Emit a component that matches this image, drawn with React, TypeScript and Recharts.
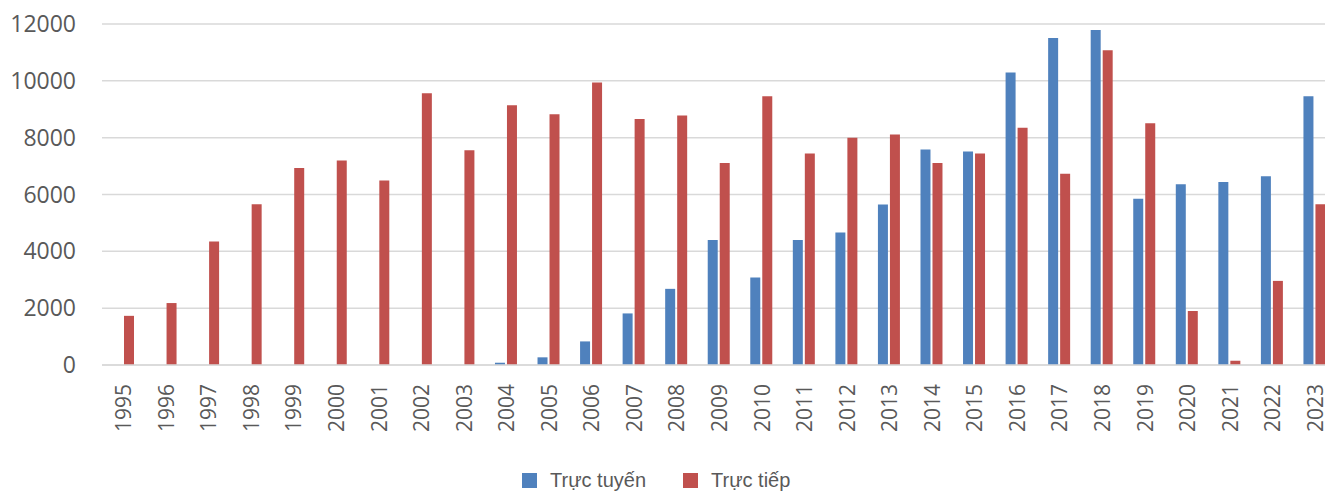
import { BarChart, Bar, XAxis, YAxis, CartesianGrid, Legend } from "recharts";

const years = [
  "1995", "1996", "1997", "1998", "1999", "2000", "2001", "2002", "2003", "2004",
  "2005", "2006", "2007", "2008", "2009", "2010", "2011", "2012", "2013", "2014",
  "2015", "2016", "2017", "2018", "2019", "2020", "2021", "2022", "2023",
];

// Trực tuyến (online)
const online = [
  0, 0, 0, 0, 0, 0, 0, 0, 0, 80,
  270, 830, 1815, 2680, 4400, 3080, 4400, 4660, 5650, 7580,
  7510, 10290, 11510, 11790, 5850, 6360, 6440, 6640, 9460,
];

// Trực tiếp (direct)
const direct = [
  1730, 2180, 4350, 5660, 6930, 7195, 6490, 9560, 7560, 9140,
  8825, 9940, 8660, 8780, 7110, 9460, 7440, 8000, 8110, 7110,
  7440, 8350, 6730, 11075, 8510, 1900, 150, 2960, 5660,
];

const yTicks = [0, 2000, 4000, 6000, 8000, 10000, 12000];

const BLUE = "#4f81bd";
const RED = "#c0504d";
const TEXT = "#595959";

const data = years.map((year, i) => ({
  year,
  online: online[i],
  direct: direct[i],
}));

function YearTick({ x, y, payload }: any) {
  return (
    <g transform={`translate(${x},${y})`}>
      <text
        transform="rotate(-90)"
        x={-19}
        y={0}
        textAnchor="end"
        dominantBaseline="central"
        fill={TEXT}
        fontSize={21}
        fontFamily="Open Sans"
      >
        {payload.value}
      </text>
    </g>
  );
}

function ChartLegend() {
  const items = [
    { label: "Trực tuyến", color: BLUE },
    { label: "Trực tiếp", color: RED },
  ];
  return (
    <div
      style={{
        height: 40,
        display: "flex",
        alignItems: "center",
        paddingLeft: 522,
        paddingTop: 16,
        boxSizing: "border-box",
        fontFamily: "Liberation Sans",
        fontSize: 20,
        color: TEXT,
      }}
    >
      {items.map((it) => (
        <div key={it.label} style={{ display: "flex", alignItems: "center", marginRight: 37 }}>
          <span style={{ width: 15, height: 15, background: it.color, marginRight: 13 }} />
          <span>{it.label}</span>
        </div>
      ))}
    </div>
  );
}

export default function App() {
  return (
    <div
      style={{
        position: "absolute",
        left: 0,
        top: 0,
        width: 1325,
        height: 492,
        overflow: "hidden",
        background: "#fff",
      }}
    >
      <BarChart
        width={1340}
        height={492}
        data={data}
        margin={{ top: 24, right: 4, bottom: 0, left: 0 }}
        barSize={10}
        barGap={2}
      >
        <CartesianGrid vertical={false} stroke="#d9d9d9" strokeWidth={1.5} />
        <XAxis
          dataKey="year"
          interval={0}
          height={87}
          tickLine={false}
          tickSize={0}
          tickMargin={0}
          axisLine={{ stroke: "#d9d9d9", strokeWidth: 1.5 }}
          tick={<YearTick />}
        />
        <YAxis
          width={102}
          domain={[0, 12000]}
          ticks={yTicks}
          axisLine={false}
          tickLine={false}
          tickSize={0}
          tickMargin={26}
          tick={{ fill: TEXT, fontSize: 23, fontFamily: "Open Sans" }}
        />
        <Legend verticalAlign="bottom" align="left" content={<ChartLegend />} wrapperStyle={{ left: 0, width: 1340 }} />
        <Bar dataKey="online" name="Trực tuyến" fill={BLUE} isAnimationActive={false} />
        <Bar dataKey="direct" name="Trực tiếp" fill={RED} isAnimationActive={false} />
      </BarChart>
    </div>
  );
}
